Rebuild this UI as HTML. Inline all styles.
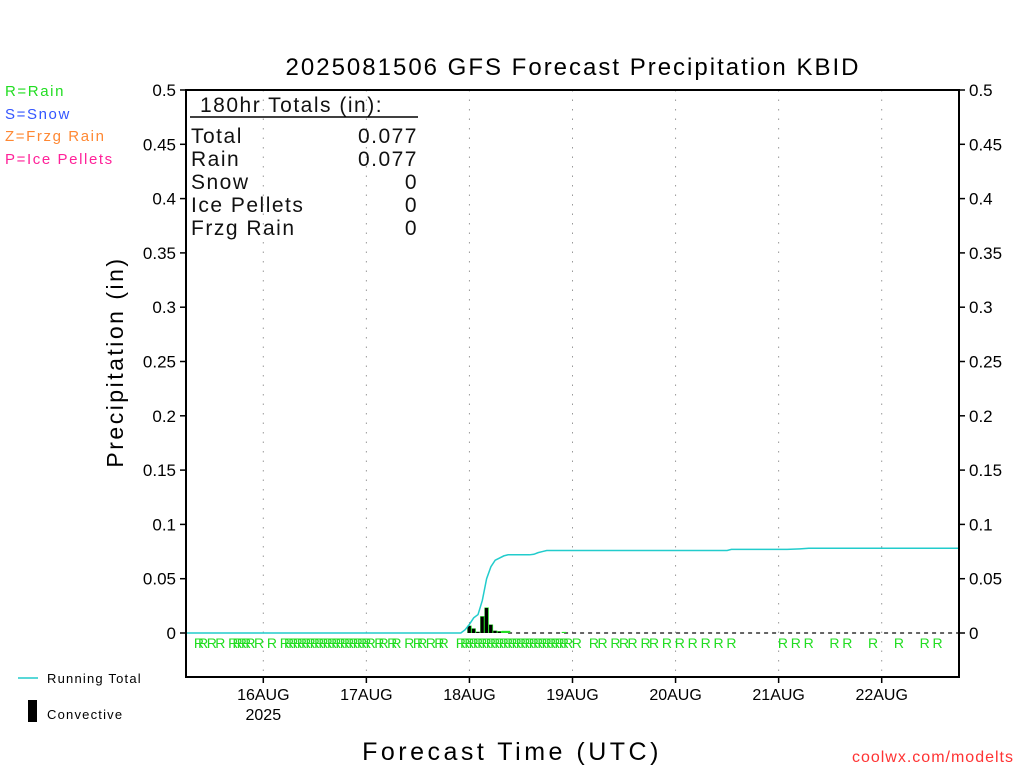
<!DOCTYPE html>
<html><head><meta charset="utf-8"><style>
body{margin:0;background:#fff;width:1024px;height:768px;overflow:hidden}
svg{font-family:"Liberation Sans",sans-serif}
</style></head><body>
<svg width="1024" height="768" viewBox="0 0 1024 768">
<text x="573" y="75" font-size="24" text-anchor="middle" letter-spacing="2">2025081506 GFS Forecast Precipitation KBID</text>
<g font-size="15" letter-spacing="1.6">
<text x="5" y="96" fill="#22dd22">R=Rain</text>
<text x="5" y="119" fill="#3355ff">S=Snow</text>
<text x="5" y="141" fill="#ff8833">Z=Frzg Rain</text>
<text x="5" y="164" fill="#ff2299">P=Ice Pellets</text>
</g>
<text transform="translate(123,362) rotate(-90)" font-size="23" text-anchor="middle" letter-spacing="2.5">Precipitation (in)</text>
<text x="512" y="760" font-size="25" text-anchor="middle" letter-spacing="3.5">Forecast Time (UTC)</text>
<text x="1014" y="762" font-size="16" fill="#ff3333" text-anchor="end" letter-spacing="1">coolwx.com/modelts</text>
<g>
<line x1="18" y1="678" x2="38" y2="678" stroke="#22cccc" stroke-width="1.5"/>
<text x="47" y="683" font-size="13" letter-spacing="1.2">Running Total</text>
<rect x="28" y="700" width="9" height="22" fill="#000"/>
<text x="47" y="719" font-size="13" letter-spacing="1.2">Convective</text>
</g>
<g id="grid"></g>
<g id="marks"></g>
<g id="axes"></g>
<g font-size="21" letter-spacing="1.5" fill="#111">
<text x="200" y="112">180hr Totals (in):</text>
<line x1="190" y1="117" x2="418" y2="117" stroke="#000" stroke-width="1.5"/>
<text x="191" y="143">Total</text><text x="418" y="143" text-anchor="end">0.077</text>
<text x="191" y="166">Rain</text><text x="418" y="166" text-anchor="end">0.077</text>
<text x="191" y="189">Snow</text><text x="418" y="189" text-anchor="end">0</text>
<text x="191" y="212">Ice Pellets</text><text x="418" y="212" text-anchor="end">0</text>
<text x="191" y="235">Frzg Rain</text><text x="418" y="235" text-anchor="end">0</text>
</g>
</svg>
<script>
const yTicks=[0,0.05,0.1,0.15,0.2,0.25,0.3,0.35,0.4,0.45,0.5];
const yTickLabels=["0","0.05","0.1","0.15","0.2","0.25","0.3","0.35","0.4","0.45","0.5"];
const dayHours=[18,42,66,90,114,138,162];
const dayLabels=["16AUG","17AUG","18AUG","19AUG","20AUG","21AUG","22AUG"];
const runHours=[0,64,65,66,67,68,69,70,71,72,73,74,75,80,81,82,83,84,126,127,140,143,145,180];
const runTotals=[0,0,0.003,0.008,0.014,0.017,0.03,0.05,0.061,0.067,0.069,0.071,0.072,0.072,0.0725,0.074,0.075,0.076,0.076,0.077,0.077,0.0775,0.078,0.078];
const barHours=[66,67,68,69,70,71,72,73,74,75,88];
const totalPrecip=[0.0068,0.0042,0.0012,0.0155,0.0235,0.0078,0.0022,0.0018,0.002,0.002,0.001];
const convPrecip=[0.0065,0.004,0.001,0.015,0.023,0.0075,0.002,0.0012,0,0,0];
const rainHours=[3,4,6,8,11,12,13,14,15,17,20,23,24,25,26,27,28,29,30,31,32,33,34,35,36,37,38,39,40,41,42,43,45,46,48,49,52,54,55,57,59,60,64,65,66,67,68,69,70,71,72,73,74,75,76,77,78,79,80,81,82,83,84,85,86,87,88,89,91,95,97,100,102,104,107,109,112,115,118,121,124,127,139,142,145,151,154,160,166,172,175];
const L=186,R=959,T=90,B=677,Y0=633,Y5=90,totalH=180;
const x=h=>L+(R-L)*h/totalH;
const y=v=>Y0-(Y0-Y5)*v/0.5;
const NS="http://www.w3.org/2000/svg";
function mk(tag,attrs,parent){const e=document.createElementNS(NS,tag);for(const k in attrs)e.setAttribute(k,attrs[k]);parent.appendChild(e);return e;}
const grid=document.getElementById('grid'),marks=document.getElementById('marks'),axes=document.getElementById('axes');
dayHours.forEach((h,i)=>{
 const g=mk('line',{x1:x(h),x2:x(h),y1:T,y2:B,stroke:'#999','stroke-width':1,'stroke-dasharray':'1.5,8'},grid);
 
 
 const t=mk('line',{x1:x(h),x2:x(h),y1:B,y2:B+6,stroke:'#000','stroke-width':1.5},axes);
 
 
 const lb=mk('text',{x:x(h),y:700,'font-size':16,'text-anchor':'middle'},axes);
 lb.textContent=dayLabels[i];
 
 
});
const yr=mk('text',{x:x(dayHours[0]),y:720,'font-size':16,'text-anchor':'middle'},axes);
yr.textContent="2025";


yTicks.forEach((v,i)=>{
 [[L-6,L,L-10,'end'],[R,R+6,R+10,'start']].forEach(([a,b,tx,an])=>{
  const t=mk('line',{x1:a,x2:b,y1:y(v),y2:y(v),stroke:'#000','stroke-width':1.5},axes);
  
  
  const lb=mk('text',{x:tx,y:y(v)+6,'font-size':17,'text-anchor':an},axes);
  lb.textContent=yTickLabels[i];
  
  
 });
});
const fr=mk('rect',{x:L,y:T,width:R-L,height:B-T,fill:'none',stroke:'#000','stroke-width':2},axes);


const zl=mk('line',{x1:x(75),x2:R,y1:Y0,y2:Y0,stroke:'#333','stroke-width':1.5,'stroke-dasharray':'4,4'},marks);


barHours.forEach((h,i)=>{
 const g=mk('rect',{x:x(h)-2.2,y:y(totalPrecip[i]),width:4.4,height:Y0-y(totalPrecip[i]),fill:'#22dd22'},marks);
 
 
 if(convPrecip[i]>0){
  const c=mk('rect',{x:x(h)-1.8,y:y(convPrecip[i]),width:3.2,height:Y0-y(convPrecip[i]),fill:'#000'},marks);
  
  
 }
});
const pts=runHours.map((h,i)=>x(h)+','+y(runTotals[i])).join(' ');
const pl=mk('polyline',{points:pts,fill:'none',stroke:'#22cccc','stroke-width':1.5},marks);


rainHours.forEach(h=>{
 const t=mk('text',{x:x(h),y:648,'font-size':14,fill:'#22dd22','text-anchor':'middle'},marks);
 t.textContent='R';
 
 
});
</script>
</body></html>
